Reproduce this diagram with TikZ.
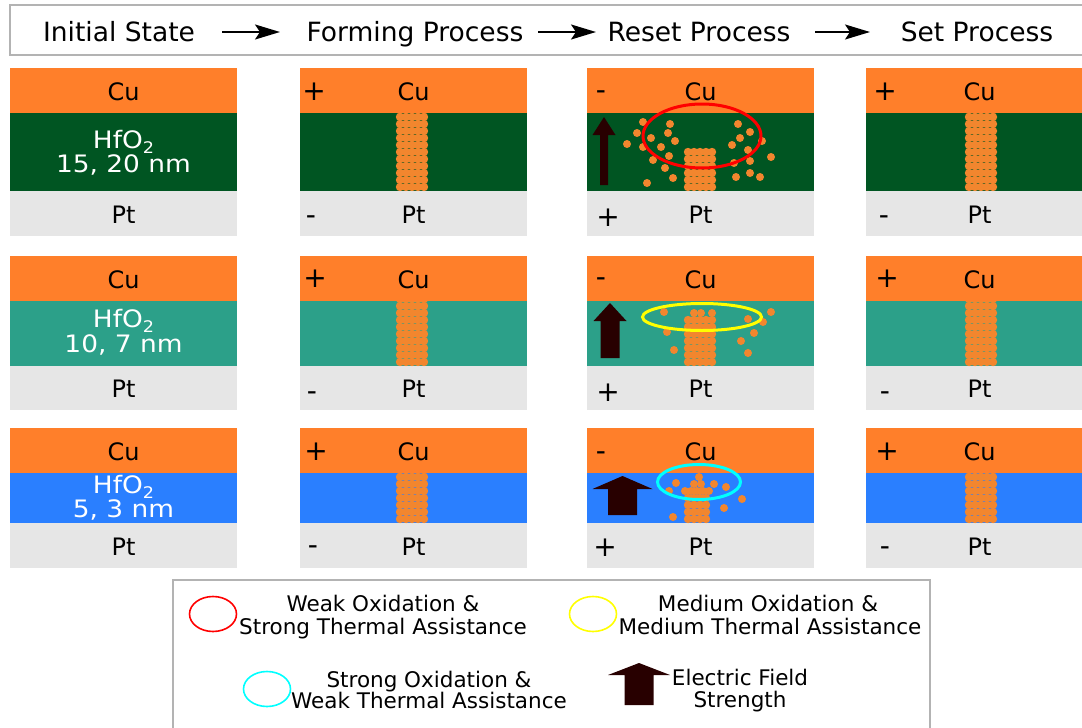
\documentclass[tikz,border=0pt]{standalone}
\usepackage{fontspec}
\setmainfont{DejaVu Sans}
\newfontfamily\oxfont{DejaVu Sans}[FakeStretch=1.1]
\usetikzlibrary{arrows.meta}

\definecolor{cuorange}{HTML}{FF7F2A}
\definecolor{ptgray}{HTML}{E6E6E6}
\definecolor{oxgreen}{HTML}{005522}
\definecolor{oxteal}{HTML}{2CA089}
\definecolor{oxblue}{HTML}{2A7FFF}
\definecolor{fieldbrown}{HTML}{280000}
\definecolor{framegray}{HTML}{B3B3B3}
\definecolor{ionorange}{HTML}{F2862E}
\definecolor{ringred}{RGB}{255,0,0}
\definecolor{ringyellow}{RGB}{255,255,0}
\definecolor{ringcyan}{RGB}{0,255,255}

% subscript two of HfO2
\newcommand\subtwo{\raisebox{-0.4ex}{\fontsize{16}{16}\selectfont 2}}

% column of Cu ions: x centre, y of lowest dot, columns, rows
\newcommand\ioncolumn[4]{%
  \foreach \ci in {1,...,#3}{%
    \foreach \cj in {1,...,#4}{%
      \fill[ionorange] ({#1+(\ci-(#3+1)/2)*6},{#2-(\cj-1)*7}) circle[radius=4.2];
    }}}

% block arrow for the electric field: x centre, tip, head base, tail, shaft half width, head half width
\newcommand\fieldarrow[6]{%
  \fill[fieldbrown] ({#1-#5},#4) -- ({#1-#5},#3) -- ({#1-#6},#3) -- (#1,#2)
    -- ({#1+#6},#3) -- ({#1+#5},#3) -- ({#1+#5},#4) -- cycle;}

\begin{document}
\begin{tikzpicture}[x=1pt,y=-1pt,
  hdr/.style={font=\fontsize{26.5}{27}\selectfont, inner sep=0pt, anchor=base},
  lbl/.style={font=\fontsize{24}{24}\selectfont, inner sep=0pt},
  sgn/.style={font=\fontsize{28}{28}\selectfont, inner sep=0pt, anchor=base},
  oxl/.style={font=\oxfont\fontsize{24}{24}\selectfont, text=white, inner sep=0pt, anchor=base},
  leg/.style={font=\fontsize{21.5}{22}\selectfont, inner sep=0pt, anchor=base},
  flow/.style={line width=2pt, -{Stealth[length=25pt,width=15pt,inset=5pt]}},
  ring/.style={line width=3pt}]

\useasboundingbox (0,0) rectangle (1082,728);
\clip (0,0) rectangle (1082,728);

% ---------- title bar ----------
\draw[framegray, line width=1.5pt] (10,5) rectangle (1095,55);
\node[hdr] (h1) at (119,41) {Initial State};
\node[hdr] (h2) at (415,41) {Forming Process};
\node[hdr] (h3) at (699,41) {Reset Process};
\node[hdr] (h4) at (977,41) {Set Process};
\coordinate (a1s) at (222,32); \coordinate (a1e) at (280,32);
\coordinate (a2s) at (538,32); \coordinate (a2e) at (596,32);
\coordinate (a3s) at (815,32); \coordinate (a3e) at (870,32);
\draw[flow] (a1s) -- (a1e);
\draw[flow] (a2s) -- (a2e);
\draw[flow] (a3s) -- (a3e);

% ---------- layer stacks ----------
% rows: top of Cu, Cu/oxide, oxide/Pt, bottom of Pt, oxide colour
\foreach \top/\cu/\ox/\bot/\oxc/\r in {68/113/191/236/oxgreen/1, 256/301/366/410/oxteal/2, 428/473/523/568/oxblue/3}{
  \foreach \xl/\c in {10/1, 300/2, 587/3, 866/4}{
    \fill[cuorange] (\xl,\top) rectangle ({\xl+227},\cu);
    \fill[\oxc] (\xl,\cu) rectangle ({\xl+227},\ox);
    \fill[ptgray] (\xl,\ox) rectangle ({\xl+227},\bot);
    \node[lbl] (cu\r\c) at ({\xl+113.5},{(\top+\cu)/2+1}) {Cu};
    \node[lbl] (pt\r\c) at ({\xl+113.5},{(\ox+\bot)/2+1}) {Pt};
  }
  % conducting filaments after forming and after set
  \begin{scope}
    \clip (300,\cu) rectangle (527,\ox);
    \ioncolumn{412}{\ox-4}{5}{12}
  \end{scope}
  \begin{scope}
    \clip (866,\cu) rectangle (1093,\ox);
    \ioncolumn{981}{\ox-4}{5}{12}
  \end{scope}
}

% oxide labels
\node[oxl] (ox1a) at (123.5,148) {HfO\subtwo};
\node[oxl] (ox1b) at (123.5,172) {15, 20 nm};
\node[oxl] (ox2a) at (123.5,327) {HfO\subtwo};
\node[oxl] (ox2b) at (123.5,352) {10, 7 nm};
\node[oxl] (ox3a) at (123.5,493) {HfO\subtwo};
\node[oxl] (ox3b) at (123.5,517) {5, 3 nm};

% electrode polarities
\node[sgn] (s12t) at (314,100) {+};  \node[sgn] (s12b) at (311,224) {-};
\node[sgn] (s13t) at (601,99) {-};   \node[sgn] (s13b) at (608,226) {+};
\node[sgn] (s14t) at (885,100) {+};  \node[sgn] (s14b) at (884,224) {-};
\node[sgn] (s22t) at (315,287) {+};  \node[sgn] (s22b) at (312,400) {-};
\node[sgn] (s23t) at (601,286) {-};  \node[sgn] (s23b) at (608,401) {+};
\node[sgn] (s24t) at (887,287) {+};  \node[sgn] (s24b) at (885,400) {-};
\node[sgn] (s32t) at (316,460) {+};  \node[sgn] (s32b) at (313,554) {-};
\node[sgn] (s33t) at (601,460) {-};  \node[sgn] (s33b) at (605,556) {+};
\node[sgn] (s34t) at (887,460) {+};  \node[sgn] (s34b) at (885,555) {-};

% ---------- reset: thick oxide ----------
\ioncolumn{700}{187}{5}{6}
\foreach \px/\py in {643/122, 637/133, 627/144, 643/147, 651/138, 670/124, 668/133,
  675/141, 661/147, 669/156, 653/160, 665/168, 673/178, 647/183, 738/124, 750/132,
  740/138, 732/145, 762/141, 748/150, 771/157, 750/161, 734/163, 750/173, 736/177, 760/177}
  \fill[ionorange] (\px,\py) circle[radius=4];
\draw[ring, ringred] (702,136) ellipse[x radius=59, y radius=32];
\fieldarrow{604}{117}{135}{185}{4}{11.5}

% ---------- reset: medium oxide ----------
\ioncolumn{700}{362}{5}{7}
\foreach \px/\py in {694/313, 701/313, 712/313, 664/312, 667/332, 674/350, 748/319,
  763/322, 771/312, 754/333, 741/341, 748/353}
  \fill[ionorange] (\px,\py) circle[radius=4];
\draw[ring, ringyellow] (702,317) ellipse[x radius=59.5, y radius=13.5];
\fieldarrow{610}{303}{321}{358}{9.5}{16.5}

% ---------- reset: thin oxide ----------
\ioncolumn{697}{519}{4}{4}
\foreach \px/\py in {685/491, 691/491, 697/491, 703/491, 709/491, 694/484, 701/484,
  699/477, 676/483, 669/491, 714/484, 726/487, 742/499, 724/508, 673/517}
  \fill[ionorange] (\px,\py) circle[radius=4];
\draw[ring, ringcyan] (699,482) ellipse[x radius=41.5, y radius=17.5];
\fieldarrow{622.5}{476}{489}{515}{14.5}{30}

% ---------- legend ----------
\draw[framegray, line width=1.5pt] (173,580) rectangle (930,740);
\draw[ringred, line width=1.6pt] (213,614) ellipse[x radius=23.5, y radius=17.5];
\node[leg] (l1a) at (383,611) {Weak Oxidation \&};
\node[leg] (l1b) at (383,634) {Strong Thermal Assistance};
\draw[ringyellow, line width=1.6pt] (593,614) ellipse[x radius=23.5, y radius=17.5];
\node[leg] (l2a) at (768,611) {Medium Oxidation \&};
\node[leg] (l2b) at (770,634) {Medium Thermal Assistance};
\draw[ringcyan, line width=1.6pt] (267,689) ellipse[x radius=23.5, y radius=17.5];
\node[leg] (l3a) at (429,687) {Strong Oxidation \&};
\node[leg] (l3b) at (429,708) {Weak Thermal Assistance};
\fieldarrow{639}{663}{675}{705}{14.5}{31}
\node[leg] (l4a) at (740,685) {Electric Field};
\node[leg] (l4b) at (740,707) {Strength};

\end{tikzpicture}
\end{document}
